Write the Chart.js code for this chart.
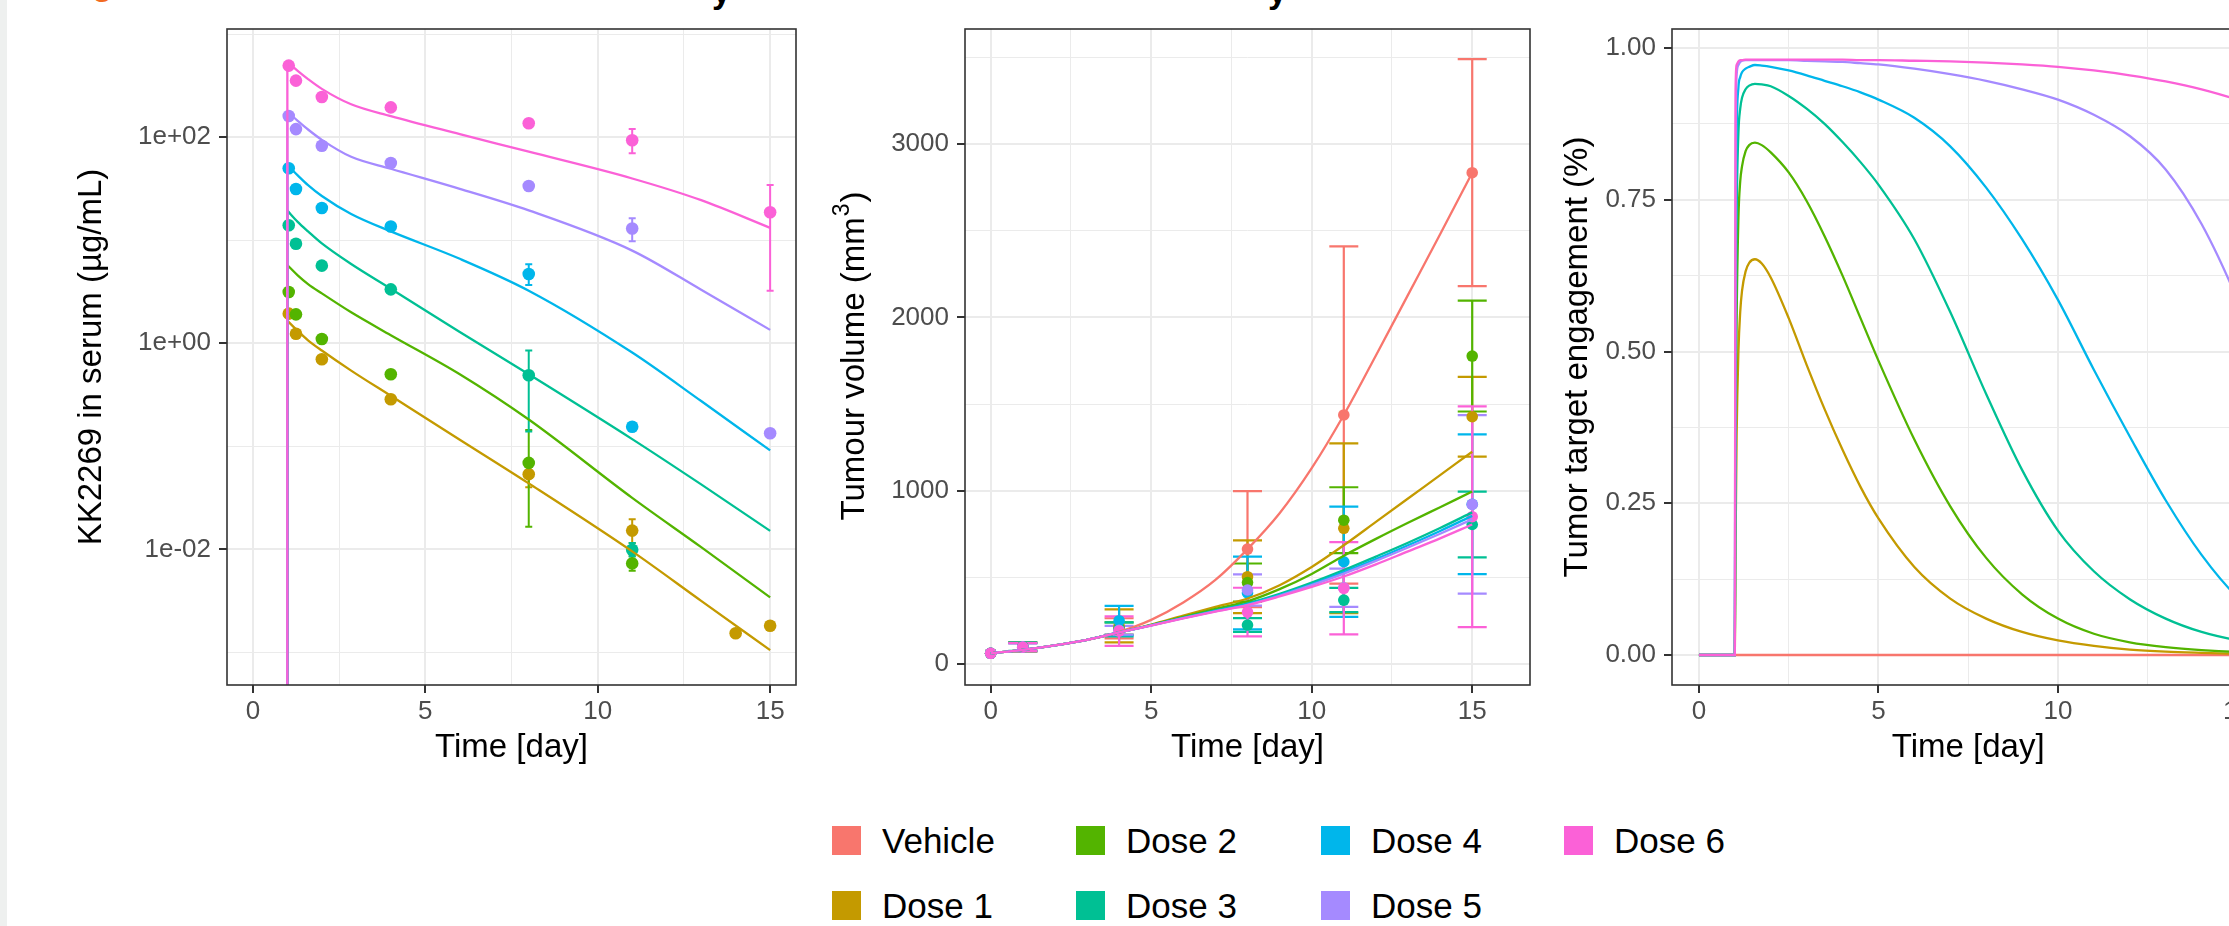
<!DOCTYPE html>
<html><head><meta charset="utf-8">
<script src="https://cdn.jsdelivr.net/npm/chart.js@4.4.1/dist/chart.umd.min.js"></script>
<style>
html,body{margin:0;padding:0;background:#fff;width:2229px;height:926px;overflow:hidden;position:relative;font-family:"Liberation Sans",Arial,Helvetica,sans-serif;}
canvas{position:absolute;top:0;}
#strip{position:absolute;left:0;top:0;width:7px;height:926px;background:#EEF0EF;}
.frag{position:absolute;font-weight:bold;font-size:34px;line-height:34px;white-space:pre;}
.legtxt{position:absolute;font-size:35px;line-height:29px;color:#000;white-space:pre;}
.key{position:absolute;width:29px;height:29px;}
</style></head><body>
<div id="strip"></div>
<div class="frag" style="left:92px;top:-34px;color:#F26B21">g</div>
<div class="frag" style="left:712px;top:-26px;color:#000">y</div>
<div class="frag" style="left:1268px;top:-26px;color:#000">y</div>
<canvas id="c1" width="830" height="800" style="left:0px"></canvas>
<canvas id="c2" width="760" height="800" style="left:800px"></canvas>
<canvas id="c3" width="800" height="800" style="left:1500px"></canvas>
<div id="legend"></div>
<script>
// ---------- groups ----------
const groups = ['Vehicle', 'Dose 1', 'Dose 2', 'Dose 3', 'Dose 4', 'Dose 5', 'Dose 6'];
const groupColors = ['#F8766D', '#C49A00', '#53B400', '#00C094', '#00B6EB', '#A58AFF', '#FB61D7'];

// ---------- panel 1 : serum concentration (log scale) ----------
const pkTimes = [1.04, 1.25, 2, 4, 8, 11, 14, 15];
const pkObsDose1 = [1.94, 1.24, 0.70, 0.286, 0.0537, 0.0152, 0.00153, 0.00181];
const pkObsDose2 = [3.15, 1.91, 1.10, 0.50, 0.069, 0.0073, null, null];
const pkObsDose3 = [14, 9.27, 5.67, 3.34, 0.49, 0.0099, null, null];
const pkObsDose4 = [50, 31.5, 20.6, 13.6, 4.7, 0.155, null, null];
const pkObsDose5 = [161, 120, 82.8, 56.3, 33.7, 13, null, 0.134];
const pkObsDose6 = [496, 355, 246, 195, 137, 93.5, null, 18.7];
// [group index, time, lower, upper]
const pkErrorBars = [
  [1, 8, 0.040, 0.065], [1, 11, 0.0115, 0.0196],
  [2, 8, 0.0166, 0.144], [2, 11, 0.0062, 0.0086],
  [3, 8, 0.139, 0.85], [3, 11, 0.0085, 0.0115],
  [4, 8, 3.68, 5.85],
  [5, 11, 9.8, 16.4],
  [6, 11, 70, 120], [6, 15, 3.24, 34.4]
];
const pkModelTimes = [1, 1.3, 1.6, 2, 2.85, 4, 6, 8, 11, 13, 15];
const pkModelDose1 = [1.66, 1.32, 1.07, 0.851, 0.543, 0.309, 0.116, 0.0437, 0.00955, 0.00316, 0.00105];
const pkModelDose2 = [5.75, 4.57, 3.76, 3.05, 2.0, 1.2, 0.501, 0.182, 0.0316, 0.0105, 0.00342];
const pkModelDose3 = [19.4, 15.1, 12.2, 9.33, 5.89, 3.39, 1.29, 0.501, 0.1175, 0.0427, 0.0151];
const pkModelDose4 = [53.8, 42.7, 34.3, 26.9, 18.0, 12.2, 6.61, 3.24, 0.813, 0.275, 0.0912];
const pkModelDose5 = [177, 144.5, 118.9, 94.4, 64.6, 49.5, 31.6, 19.5, 7.94, 3.31, 1.35];
const pkModelDose6 = [540, 441.6, 367.3, 295.1, 208.9, 160.3, 107.2, 72.4, 39.8, 24.5, 13.2];
const pkDoseDay = 1;
const pkPreDoseLevel = 1e-8;
const pkYTicks = [1e-3, 1e-2, 1e-1, 1e0, 1e1, 1e2, 1e3];
const pkYLabelExps = [-2, 0, 2];

// ---------- panel 2 : tumour volume ----------
const tvTimes = [0, 1, 4, 8, 11, 15];
const tvMeanVehicle = [62, 100, 206, 663, 1437, 2835];
const tvSdVehicle   = [0, 25, 58, 335, 973, 655];
const tvMeanDose1 = [62, 97, 220, 504, 783, 1427];
const tvSdDose1   = [0, 25, 95, 210, 490, 230];
const tvMeanDose2 = [62, 100, 205, 470, 830, 1777];
const tvSdDose2   = [0, 25, 35, 110, 190, 320];
const tvMeanDose3 = [62, 98, 200, 225, 369, 805];
const tvSdDose3   = [0, 22, 40, 40, 70, 190];
const tvMeanDose4 = [62, 99, 250, 410, 590, 922];
const tvSdDose4   = [0, 24, 85, 210, 318, 403];
const tvMeanDose5 = [62, 97, 195, 427, 440, 921];
const tvSdDose5   = [0, 22, 25, 90, 110, 515];
const tvMeanDose6 = [62, 98, 190, 300, 437, 850];
const tvSdDose6   = [0, 23, 85, 140, 266, 637];
const tvModelTimes = [0, 1, 2, 3, 4, 5, 6, 7, 8, 9, 10, 11, 12, 13, 14, 15];
const tvModelVehicle = [62, 82, 108, 140, 186, 255, 355, 485, 663, 870, 1130, 1437, 1780, 2130, 2480, 2835];
const tvModelDose1 = [62, 82, 108, 140, 182, 228, 280, 330, 378, 455, 560, 685, 820, 955, 1090, 1225];
const tvModelDose2 = [62, 82, 108, 140, 182, 225, 272, 318, 362, 432, 520, 625, 722, 815, 905, 995];
const tvModelDose3 = [62, 82, 108, 140, 182, 224, 268, 310, 350, 405, 470, 542, 620, 700, 785, 875];
const tvModelDose4 = [62, 82, 108, 140, 182, 223, 266, 306, 345, 398, 460, 530, 605, 685, 768, 855];
const tvModelDose5 = [62, 82, 108, 140, 182, 223, 265, 304, 342, 394, 455, 522, 595, 672, 752, 835];
const tvModelDose6 = [62, 82, 108, 140, 182, 222, 263, 302, 340, 390, 445, 505, 575, 650, 725, 805];

// ---------- panel 3 : target engagement ----------
const teTimes = [0, 1, 1.02, 1.05, 1.1, 1.15, 1.2, 1.3, 1.4, 1.56, 1.75, 2, 2.5, 3, 3.5, 4, 4.5, 5, 6, 7, 8, 9, 10, 11, 12, 13, 14, 15, 15.75];
const teVehicle = [0, 0, 0, 0, 0, 0, 0, 0, 0, 0, 0, 0, 0, 0, 0, 0, 0, 0, 0, 0, 0, 0, 0, 0, 0, 0, 0, 0, 0];
const teDose1 = [0, 0, 0.18, 0.36, 0.5, 0.565, 0.6, 0.632, 0.646, 0.652, 0.645, 0.622, 0.555, 0.478, 0.405, 0.338, 0.277, 0.225, 0.145, 0.093, 0.06, 0.038, 0.024, 0.015, 0.009, 0.0055, 0.0035, 0.002, 0.0015];
const teDose2 = [0, 0, 0.3, 0.55, 0.72, 0.78, 0.805, 0.83, 0.84, 0.844, 0.84, 0.828, 0.795, 0.748, 0.69, 0.625, 0.555, 0.485, 0.355, 0.245, 0.16, 0.1, 0.06, 0.035, 0.021, 0.013, 0.008, 0.005, 0.004];
const teDose3 = [0, 0, 0.45, 0.72, 0.86, 0.9, 0.918, 0.932, 0.938, 0.941, 0.94, 0.937, 0.921, 0.9, 0.875, 0.845, 0.812, 0.775, 0.685, 0.565, 0.43, 0.305, 0.205, 0.138, 0.092, 0.06, 0.038, 0.024, 0.017];
const teDose4 = [0, 0, 0.6, 0.85, 0.935, 0.952, 0.96, 0.966, 0.969, 0.972, 0.971, 0.969, 0.963, 0.955, 0.946, 0.937, 0.927, 0.915, 0.885, 0.838, 0.77, 0.685, 0.585, 0.47, 0.36, 0.255, 0.165, 0.095, 0.06];
const teDose5 = [0, 0, 0.8, 0.955, 0.972, 0.977, 0.979, 0.98, 0.98, 0.98, 0.98, 0.98, 0.98, 0.979, 0.978, 0.977, 0.975, 0.973, 0.966, 0.957, 0.946, 0.932, 0.915, 0.89, 0.855, 0.8, 0.71, 0.585, 0.47];
const teDose6 = [0, 0, 0.93, 0.972, 0.978, 0.98, 0.98, 0.981, 0.981, 0.981, 0.981, 0.981, 0.981, 0.981, 0.981, 0.981, 0.98, 0.98, 0.979, 0.978, 0.976, 0.973, 0.969, 0.963, 0.955, 0.945, 0.932, 0.915, 0.9];

// ---------- axis ticks ----------
const xMajorTicks = [0, 5, 10, 15];
const xMinorTicks = [2.5, 7.5, 12.5];
const tvYMajorTicks = [0, 1000, 2000, 3000];
const tvYMinorTicks = [500, 1500, 2500, 3500];
const teYMajorTicks = [0, 0.25, 0.5, 0.75, 1.0];
const teYMinorTicks = [0.125, 0.375, 0.625, 0.875];

// =====================================================
Chart.defaults.font.family = '"Liberation Sans", Arial, Helvetica, sans-serif';
const FONT = '"Liberation Sans", Arial, Helvetica, sans-serif';
const GRID = '#EBEBEB', AXIS = '#333333', TICKTXT = '#4D4D4D';
const near = (v, arr) => arr.some(m => Math.abs(m - v) < 1e-9 * Math.max(1, Math.abs(m)));

function xAxis(min, max, titlePad) {
  const all = [...xMajorTicks, ...xMinorTicks].sort((a, b) => a - b);
  return {
    type: 'linear', min, max,
    afterBuildTicks: s => { s.ticks = all.map(v => ({value: v})); },
    afterFit: s => { s.height = 115; },
    ticks: {autoSkip: false, maxRotation: 0, minRotation: 0, padding: 3, color: TICKTXT, font: {size: 26},
      callback: v => near(v, xMajorTicks) ? String(v) : ''},
    grid: {color: GRID, lineWidth: c => (c.tick && near(c.tick.value, xMajorTicks)) ? 2 : 1,
      drawTicks: true, tickLength: 8, tickWidth: 2,
      tickColor: c => (c.tick && near(c.tick.value, xMajorTicks)) ? AXIS : 'rgba(0,0,0,0)'},
    border: {display: false},
    title: {display: true, text: 'Time [day]', color: '#000', font: {size: 33}, padding: {top: 0, bottom: titlePad}}
  };
}
function yLinear(min, max, majors, minors, fmt, width, title, titlePadTop) {
  const all = [...majors, ...minors].sort((a, b) => a - b);
  return {
    type: 'linear', min, max,
    afterBuildTicks: s => { s.ticks = all.map(v => ({value: v})); },
    afterFit: s => { s.width = width; },
    ticks: {autoSkip: false, padding: 8, color: TICKTXT, font: {size: 26},
      callback: v => near(v, majors) ? fmt(v) : ''},
    grid: {color: GRID, lineWidth: c => (c.tick && near(c.tick.value, majors)) ? 2 : 1,
      drawTicks: true, tickLength: 8, tickWidth: 2,
      tickColor: c => (c.tick && near(c.tick.value, majors)) ? AXIS : 'rgba(0,0,0,0)'},
    border: {display: false},
    title: {display: !!title, text: title || '', color: '#000', font: {size: 33}, padding: {top: titlePadTop, bottom: 0}}
  };
}
const borderPlugin = {
  id: 'panelBorder',
  afterDraw(chart) {
    const {ctx, chartArea: a} = chart;
    ctx.save(); ctx.strokeStyle = AXIS; ctx.lineWidth = 1.6;
    ctx.strokeRect(a.left, a.top, a.right - a.left, a.bottom - a.top);
    ctx.restore();
  }
};
// y-axis title with a real superscript (mm^3)
function supTitlePlugin(mainText, supText, tailText, cx) {
  return {
    id: 'supTitle',
    afterDraw(chart) {
      const {ctx, chartArea: a} = chart;
      const cy = (a.top + a.bottom) / 2;
      ctx.save();
      ctx.translate(cx, cy); ctx.rotate(-Math.PI / 2);
      ctx.fillStyle = '#000'; ctx.textBaseline = 'alphabetic'; ctx.textAlign = 'left';
      const fMain = '33px ' + FONT, fSup = '23px ' + FONT;
      ctx.font = fMain; const w1 = ctx.measureText(mainText).width, w3 = ctx.measureText(tailText).width;
      ctx.font = fSup; const w2 = ctx.measureText(supText).width;
      let x = -(w1 + w2 + w3) / 2; const base = 11.5;
      ctx.font = fMain; ctx.fillText(mainText, x, base); x += w1;
      ctx.font = fSup; ctx.fillText(supText, x + 1, base - 15); x += w2 + 2;
      ctx.font = fMain; ctx.fillText(tailText, x, base);
      ctx.restore();
    }
  };
}
function errorPlugin(bars, cap, width) {
  return {
    id: 'errbars',
    beforeDatasetsDraw(chart) {
      const {ctx, chartArea: a, scales: {x, y}} = chart;
      ctx.save();
      ctx.beginPath(); ctx.rect(a.left, a.top, a.right - a.left, a.bottom - a.top); ctx.clip();
      ctx.lineWidth = width;
      for (const b of bars) {
        const px = x.getPixelForValue(b.x), p1 = y.getPixelForValue(b.lo), p2 = y.getPixelForValue(b.hi);
        ctx.strokeStyle = b.color;
        ctx.beginPath();
        ctx.moveTo(px, p1); ctx.lineTo(px, p2);
        ctx.moveTo(px - cap, p1); ctx.lineTo(px + cap, p1);
        ctx.moveTo(px - cap, p2); ctx.lineTo(px + cap, p2);
        ctx.stroke();
      }
      ctx.restore();
    }
  };
}
function pts(xs, ys) { const o = []; xs.forEach((x, i) => { if (ys[i] !== null && ys[i] !== undefined) o.push({x, y: ys[i]}); }); return o; }
function lineDs(gi, data, extra) {
  return Object.assign({type: 'line', data, borderColor: groupColors[gi], backgroundColor: groupColors[gi],
    borderWidth: 2.3, pointRadius: 0, pointHoverRadius: 0, fill: false, cubicInterpolationMode: 'monotone',
    clip: 0, order: 6 - gi}, extra || {});
}
function pointDs(gi, data, r) {
  return {type: 'line', data, showLine: false, pointRadius: r, pointHoverRadius: r, pointBorderWidth: 0,
    pointBackgroundColor: groupColors[gi], borderColor: groupColors[gi], backgroundColor: groupColors[gi],
    clip: 0, order: 100 + 6 - gi};
}
function baseOptions(pad, scales) {
  return {responsive: false, animation: false, devicePixelRatio: 1, events: [],
    layout: {padding: pad}, scales,
    plugins: {legend: {display: false}, tooltip: {enabled: false}, title: {display: false}}};
}

// ---------- chart 1 ----------
(function () {
  const obs = [null, pkObsDose1, pkObsDose2, pkObsDose3, pkObsDose4, pkObsDose5, pkObsDose6];
  const mod = [null, pkModelDose1, pkModelDose2, pkModelDose3, pkModelDose4, pkModelDose5, pkModelDose6];
  const ds = [];
  for (let gi = 1; gi <= 6; gi++) {
    ds.push(lineDs(gi, [{x: pkDoseDay, y: pkPreDoseLevel}, {x: pkDoseDay, y: mod[gi][0]}], {cubicInterpolationMode: 'default', tension: 0}));
    ds.push(lineDs(gi, pts(pkModelTimes, mod[gi])));
    ds.push(pointDs(gi, pts(pkTimes, obs[gi]), 6.3));
  }
  const bars = pkErrorBars.map(e => ({x: e[1], lo: e[2], hi: e[3], color: groupColors[e[0]]}));
  const fmtExp = e => '1e' + (e < 0 ? '-' : '+') + String(Math.abs(e)).padStart(2, '0');
  const yAxis = {
    type: 'logarithmic', min: Math.pow(10, -3.317), max: Math.pow(10, 3.051),
    afterBuildTicks: s => { s.ticks = pkYTicks.map(v => ({value: v})); },
    afterFit: s => { s.width = 227; },
    ticks: {autoSkip: false, padding: 8, color: TICKTXT, font: {size: 26},
      callback: v => { const e = Math.round(Math.log10(v)); return pkYLabelExps.includes(e) ? fmtExp(e) : ''; }},
    grid: {color: GRID,
      lineWidth: c => (c.tick && pkYLabelExps.includes(Math.round(Math.log10(c.tick.value)))) ? 2 : 1,
      drawTicks: true, tickLength: 8, tickWidth: 2,
      tickColor: c => (c.tick && pkYLabelExps.includes(Math.round(Math.log10(c.tick.value)))) ? AXIS : 'rgba(0,0,0,0)'},
    border: {display: false},
    title: {display: true, text: 'KK2269 in serum (µg/mL)', color: '#000', font: {size: 33}, padding: {top: 72, bottom: 0}}
  };
  new Chart(document.getElementById('c1'), {
    type: 'line', data: {datasets: ds},
    options: baseOptions({left: 0, top: 29, right: 34, bottom: 0}, {x: xAxis(-0.75, 15.75, 32), y: yAxis}),
    plugins: [errorPlugin(bars, 3.5, 2), borderPlugin]
  });
})();

// ---------- chart 2 ----------
(function () {
  const means = [tvMeanVehicle, tvMeanDose1, tvMeanDose2, tvMeanDose3, tvMeanDose4, tvMeanDose5, tvMeanDose6];
  const sds = [tvSdVehicle, tvSdDose1, tvSdDose2, tvSdDose3, tvSdDose4, tvSdDose5, tvSdDose6];
  const mod = [tvModelVehicle, tvModelDose1, tvModelDose2, tvModelDose3, tvModelDose4, tvModelDose5, tvModelDose6];
  const ds = [], bars = [];
  for (let gi = 0; gi <= 6; gi++) {
    ds.push(lineDs(gi, pts(tvModelTimes, mod[gi])));
    ds.push(pointDs(gi, pts(tvTimes, means[gi]), 5.8));
    tvTimes.forEach((t, i) => { if (sds[gi][i] > 0) bars.push({x: t, lo: means[gi][i] - sds[gi][i], hi: means[gi][i] + sds[gi][i], color: groupColors[gi]}); });
  }
  new Chart(document.getElementById('c2'), {
    type: 'line', data: {datasets: ds},
    options: baseOptions({left: 0, top: 29, right: 30, bottom: 0}, {
      x: xAxis(-0.8, 16.8, 32),
      y: yLinear(-121, 3664, tvYMajorTicks, tvYMinorTicks, v => String(v), 165, null, 0)
    }),
    plugins: [errorPlugin(bars, 14.5, 2.2), borderPlugin, supTitlePlugin('Tumour volume (mm', '3', ')', 52)]
  });
})();

// ---------- chart 3 ----------
(function () {
  const vals = [teVehicle, teDose1, teDose2, teDose3, teDose4, teDose5, teDose6];
  const ds = [];
  for (let gi = 0; gi <= 6; gi++) ds.push(lineDs(gi, pts(teTimes, vals[gi])));
  new Chart(document.getElementById('c3'), {
    type: 'line', data: {datasets: ds},
    options: baseOptions({left: 0, top: 29, right: 35.6, bottom: 0}, {
      x: xAxis(-0.75, 15.75, 32),
      y: yLinear(-0.0494, 1.0313, teYMajorTicks, teYMinorTicks, v => v.toFixed(2), 172, 'Tumor target engagement (%)', 58)
    }),
    plugins: [borderPlugin]
  });
})();

// ---------- legend ----------
(function () {
  const colX = [832, 1076, 1321, 1564], rowY = [826, 891];
  const leg = document.getElementById('legend');
  groups.forEach((g, i) => {
    const c = Math.floor(i / 2), r = i % 2;
    const k = document.createElement('div');
    k.className = 'key'; k.style.left = colX[c] + 'px'; k.style.top = rowY[r] + 'px'; k.style.background = groupColors[i];
    leg.appendChild(k);
    const t = document.createElement('div');
    t.className = 'legtxt'; t.style.left = (colX[c] + 50) + 'px'; t.style.top = rowY[r] + 'px'; t.textContent = g;
    leg.appendChild(t);
  });
})();
</script>
</body></html>
